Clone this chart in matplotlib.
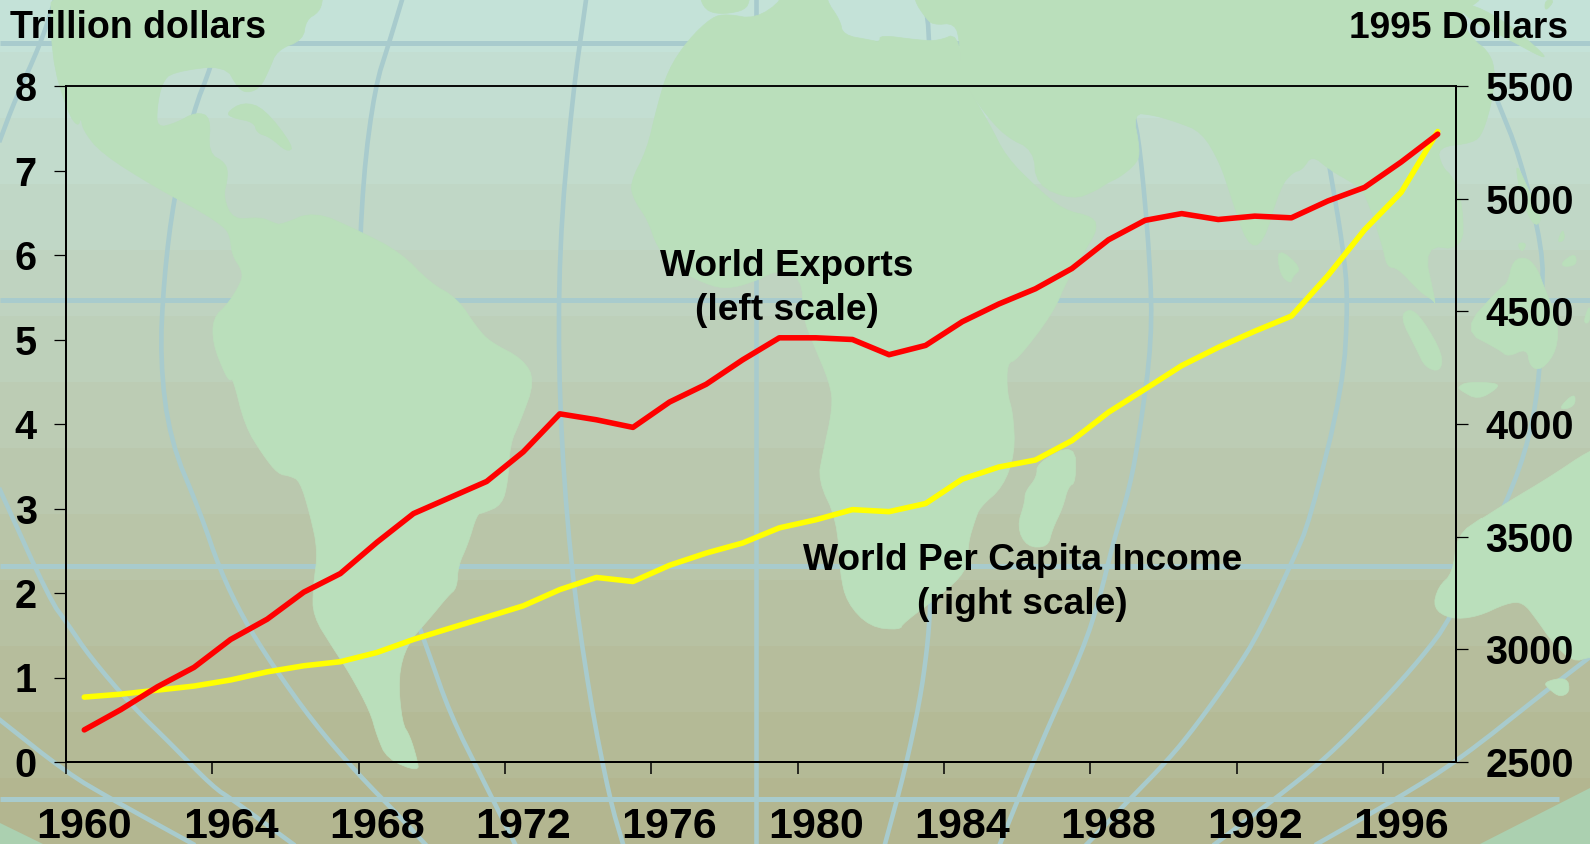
# -*- coding: utf-8 -*-
"""World exports and per capita income on a world map background."""
import matplotlib
matplotlib.use("Agg")
import matplotlib.pyplot as plt
from matplotlib.patches import Polygon

plt.rcParams["font.family"] = ["Liberation Sans", "DejaVu Sans"]
plt.rcParams["font.weight"] = "bold"

years = list(range(1960, 1998))
exports = [0.38, 0.62, 0.89, 1.12, 1.45, 1.69, 2.01, 2.23, 2.60, 2.94, 3.13, 3.32, 3.67, 4.12, 4.05, 3.96,
           4.26, 4.47, 4.76, 5.02, 5.02, 5.00, 4.82, 4.93, 5.21, 5.42, 5.60, 5.84, 6.18, 6.41, 6.49, 6.42,
           6.46, 6.44, 6.64, 6.80, 7.10, 7.43]
income = [2788, 2801, 2819, 2837, 2864, 2900, 2927, 2945, 2986, 3044, 3094, 3143, 3193, 3265, 3319, 3301,
          3373, 3427, 3472, 3539, 3575, 3620, 3611, 3647, 3755, 3809, 3840, 3926, 4052, 4155, 4259, 4340,
          4412, 4479, 4659, 4862, 5028, 5298]
left_ticks = [0, 1, 2, 3, 4, 5, 6, 7, 8]
right_ticks = [2500, 3000, 3500, 4000, 4500, 5000, 5500]

W, H = 1590, 844
TOP = (197, 227, 218); BOTTOM = (178, 180, 141)
LAND = "#badfbb"; DEEP_LAND = "#abd0b0"; GRID = "#a8cbcd"

# background map outlines, in pixels of the picture (some run past the edge so they stay square there)
americas = [(51,-30),(323,-30),(323,0),(319,12),(306,20),(303,40),(277,50),(269,70),(260,88),(247,93),(238,88),(225,65),
            (172,72),(162,83),(157,107),(157,128),(176,123),(196,112),(211,117),(208,153),(226,163),(228,177),
            (223,197),(233,220),(260,217),(274,223),(281,225),(314,211),(357,230),(400,252),(430,283),(457,298),
            (477,328),(490,342),(523,359),(535,381),(520,422),(510,444),(508,481),(502,505),(483,513),(477,514),
            (468,544),(458,566),(457,588),(448,596),(430,618),(407,644),(398,677),(402,723),(410,736),(417,759),
            (419,772),(387,759),(377,736),(370,711),(350,674),(333,648),(313,616),(313,588),(318,551),(310,514),
            (300,481),(290,476),(278,474),(263,455),(245,426),(233,378),(230,381),(225,374),(213,344),(213,318),
            (228,304),(242,281),(242,270),(232,255),(230,235),(223,226),(200,211),(155,187),(101,153),(83,130),
            (81,117),(78,127),(68,113),(51,57)]
cuba = [(226,113),(243,102),(264,108),(294,147),(287,152),(270,137),(257,133),(254,122),(233,118)]
greenland = [(700,-20),(700,0),(708,12),(725,14),(745,10),(750,0),(750,-20)]
africa = [(783,-20),(783,0),(755,19),(727,14),(712,17),(688,40),(668,70),(657,107),(647,150),(630,183),(634,200),(648,220),
          (657,247),(677,270),(713,287),(733,288),(758,280),(777,270),(802,278),(803,317),(813,343),(830,383),
          (833,407),(823,453),(818,480),(837,520),(840,573),(847,603),(870,627),(900,630),(903,623),(950,588),
          (968,567),(968,543),(975,520),(980,507),(1003,487),(1015,453),(1013,413),(1007,393),(1007,363),(1017,360),
          (1053,313),(1067,280),(1087,247),(1097,230),(1094,217),(1063,210),(1036,187),(1006,157),(989,123),(963,80),
          (958,33),(938,41),(918,40),(880,35),(880,42),(870,40),(843,35),(840,20),(826,0),(826,-20)]
madagascar = [(1037,463),(1075,443),(1076,482),(1068,487),(1063,507),(1052,530),(1048,547),(1027,547),(1017,527),
              (1025,502),(1025,492),(1037,477)]
asia = [(914,-20),(914,0),(925,17),(933,25),(955,23),(960,43),(961,80),(963,80),(982,110),(1006,137),(1034,150),(1036,185),
        (1073,200),(1097,190),(1107,183),(1120,177),(1137,163),(1140,150),(1133,113),(1153,115),(1177,122),
        (1202,132),(1220,163),(1230,193),(1247,245),(1263,245),(1280,187),(1293,172),(1302,170),(1312,155),
        (1330,170),(1353,183),(1365,192),(1383,247),(1387,267),(1398,268),(1420,292),(1433,300),(1436,305),
        (1423,245),(1463,250),(1463,207),(1453,177),(1442,167),(1437,147),(1473,143),(1483,133),(1493,97),
        (1495,67),(1487,50),(1473,40),(1457,13),(1483,0),(1483,-20)]
sri_lanka = [(1277,247),(1302,268),(1292,277),(1291,284),(1280,275)]
sumatra = [(1400,317),(1410,308),(1423,320),(1443,355),(1440,372),(1425,367),(1417,350)]
borneo = [(1462,330),(1500,288),(1508,283),(1513,260),(1527,257),(1538,270),(1543,285),(1558,320),(1557,350),
          (1542,370),(1530,367),(1527,348),(1508,357),(1500,350)]
java = [(1458,387),(1467,382),(1497,383),(1498,388),(1478,400),(1460,390)]
islets = [[(1517,243),(1527,243),(1522,253)], [(1562,262),(1575,253),(1577,265),(1563,267)],
          [(1557,243),(1563,228),(1565,240)], [(1557,410),(1575,392),(1575,407)],
          [(1583,323),(1590,303),(1590,323)], [(1515,160),(1530,193),(1543,220),(1533,227),(1520,193)],
          [(1457,5),(1475,5),(1510,25),(1545,55),(1543,58),(1510,40),(1470,20)], [(1545,0),(1555,0),(1545,12)]]
australia = [(1480,520),(1508,502),(1550,477),(1590,450),(1600,450),(1600,657),(1590,657),(1573,662),(1553,643),
             (1537,620),(1523,602),(1507,603),(1477,617),(1450,619),(1433,608),(1438,587),(1453,573),(1457,535),(1483,517)]
tasmania = [(1543,682),(1567,677),(1570,692),(1560,697),(1550,690)]
antarctic = [[(1480,844),(1590,788),(1590,844)], [(0,823),(43,844),(0,844)]]

parallels = [(0, W, 43), (0, W, 300), (0, W, 566), (0, 1559, 799)]
meridians = [[(0,140),(15,100),(40,45),(55,0)],
             [(0,490),(50,600),(67,623),(90,657),(133,707),(170,743),(213,787),(233,800),(293,844)],
             [(0,720),(67,773),(113,800),(193,844)],
             [(230,0),(211,67),(193,112),(174,197),(164,277),(160,360),(170,440),(200,512),(220,570),(243,618),
              (273,666),(313,722),(357,773),(400,817),(425,844)],
             [(402,0),(389,43),(375,87),(363,177),(358,300),(370,450),(395,560),(427,648),(450,714),(483,780),(515,844)],
             [(586,0),(572,100),(559,250),(559,400),(570,560),(590,700),(610,800),(623,844)],
             [(756,0),(756,844)],
             [(925,0),(930,40),(935,300),(932,560),(930,613),(927,650),(920,700),(905,770),(885,844)],
             [(1133,113),(1140,147),(1150,260),(1152,340),(1140,430),(1130,487),(1113,543),(1100,597),(1083,650),
              (1040,745),(1000,844)],
             [(1330,170),(1343,247),(1348,300),(1343,387),(1310,520),(1293,560),(1259,633),(1234,673),(1195,727),
              (1168,760),(1131,798),(1087,844)],
             [(1497,100),(1520,157),(1543,250),(1542,300),(1540,373),(1530,437),(1508,500),(1450,620),(1422,657),
              (1381,703),(1324,760),(1276,798),(1215,844)],
             [(1590,657),(1547,690),(1459,760),(1398,798),(1317,844)]]

def soften(pts, closed=True, rounds=2):
    # corner cutting, the map outlines are curves in the original
    for _ in range(rounds):
        new = [] if closed else [pts[0]]
        n = len(pts)
        for i in range(n if closed else n-1):
            a, b = pts[i], pts[(i+1) % n]
            new.append((0.75*a[0]+0.25*b[0], 0.75*a[1]+0.25*b[1]))
            new.append((0.25*a[0]+0.75*b[0], 0.25*a[1]+0.75*b[1]))
        if not closed: new.append(pts[-1])
        pts = new
    return pts

fig = plt.figure(figsize=(W/100, H/100), dpi=100)
bg = fig.add_axes([0, 0, 1, 1]); bg.set_xlim(0, W); bg.set_ylim(H, 0); bg.axis("off")

# banded vertical gradient
edges = [0] + list(range(52, H, 66)) + [H]
for i in range(len(edges)-1):
    t = (edges[i]+edges[i+1])/2/H
    col = [(a+(b-a)*t)/255 for a, b in zip(TOP, BOTTOM)]
    bg.axhspan(edges[i], edges[i+1], color=col, lw=0, zorder=0)
for x0, x1, y in parallels:
    bg.plot([x0, x1], [y, y], color=GRID, lw=3.6, solid_capstyle="butt", zorder=1)
for m in meridians:
    m = soften(m, closed=False)
    bg.plot([p[0] for p in m], [p[1] for p in m], color=GRID, lw=3.3, zorder=1)
for shape in [americas, cuba, greenland, africa, madagascar, asia, sri_lanka, sumatra, borneo, java, australia, tasmania] + islets:
    bg.add_patch(Polygon(soften(shape), closed=True, fc=LAND, ec=LAND, lw=0.5, zorder=2))
for shape in antarctic:
    bg.add_patch(Polygon(shape, closed=True, fc=DEEP_LAND, ec="none", zorder=2))
bg.set_xlim(0, W); bg.set_ylim(H, 0)

# plot frame spans x 66-1456, y 86-762
rect = [66/W, 1-762/H, (1456-66)/W, (762-86)/H]
ax = fig.add_axes(rect); ax.patch.set_visible(False)
ax2 = ax.twinx(); ax2.patch.set_visible(False)
ax.set_zorder(3); ax2.set_zorder(2)

idx = list(range(len(years)))
ax2.plot(idx, income, color="#ffff00", lw=4.0, solid_capstyle="round", solid_joinstyle="round")
ax.plot(idx, exports, color="#ff0000", lw=4.0, solid_capstyle="round", solid_joinstyle="round")

ax.set_xlim(-0.5, len(years)-0.5)
ax.set_ylim(0, 8); ax2.set_ylim(2500, 5500)
ax.set_yticks(left_ticks); ax2.set_yticks(right_ticks)
ax.set_xticks([i-0.5 for i in idx[::4]]); ax.set_xticklabels([])
ax.set_xticks(idx[::4], minor=True); ax.set_xticklabels([str(y) for y in years[::4]], minor=True)
ax.tick_params(axis="x", which="major", direction="out", length=8.6, width=1.1)
ax.tick_params(axis="x", which="minor", length=0, labelsize=31, pad=32.5)
ax.tick_params(axis="y", direction="out", length=8.6, width=0.9, labelsize=28.5, pad=12.5)
ax2.tick_params(axis="y", direction="out", length=8.6, width=0.9, labelsize=28.5, pad=12.5)
for a in (ax, ax2):
    for sp in a.spines.values(): sp.set_linewidth(1.4)
    a.spines["top"].set_linewidth(1.1)

def label(x, y, s, ha="center", fs=26.7):
    fig.text(x/W, 1-y/H, s, ha=ha, va="center", fontsize=fs, fontweight="bold", color="black", zorder=10)

label(10, 28, "Trillion dollars", ha="left", fs=27)
label(1568, 28, "1995 Dollars", ha="right", fs=26.7)
label(787, 266, "World Exports")
label(787, 310, "(left scale)")
label(1023, 560, "World Per Capita Income")
label(1022, 604, "(right scale)")

plt.savefig("out.png", dpi=100)
